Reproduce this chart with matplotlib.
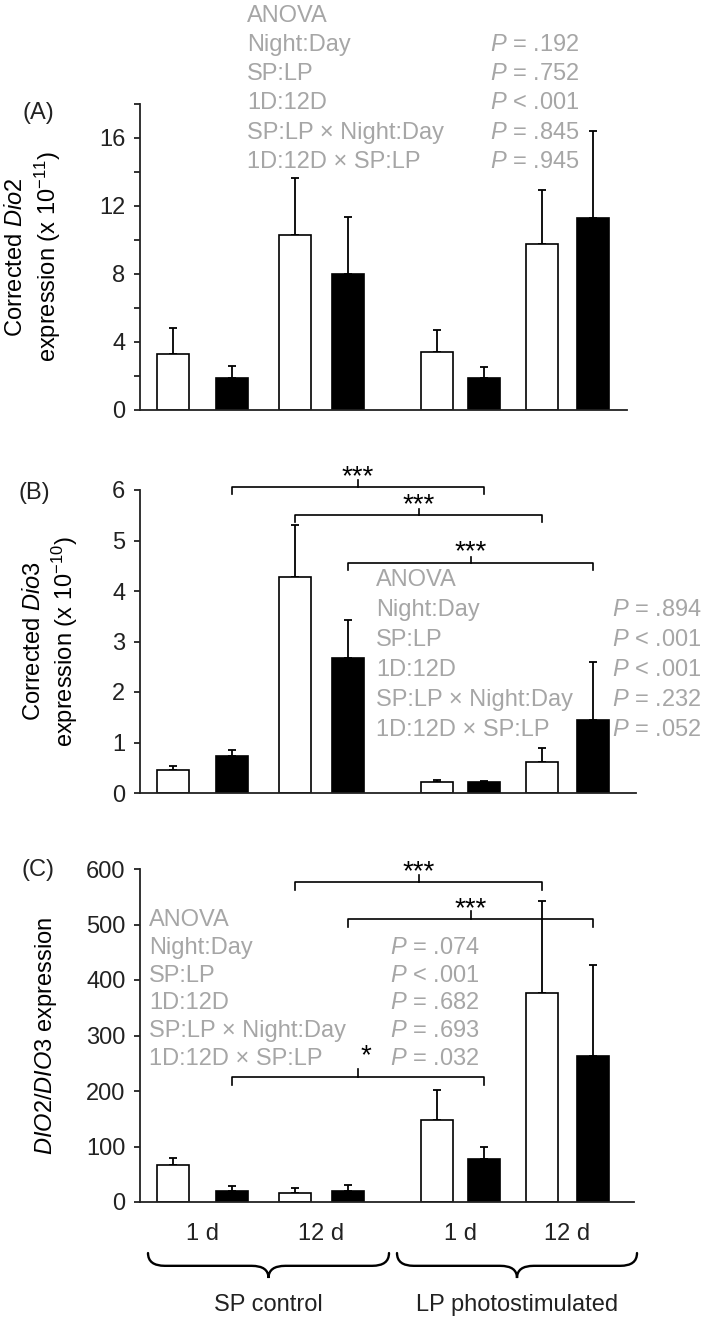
import numpy as np
import matplotlib
matplotlib.use('Agg')
import matplotlib.pyplot as plt
from matplotlib.path import Path
from matplotlib.patches import PathPatch

plt.rcParams['font.family'] = ['Liberation Sans', 'DejaVu Sans']
plt.rcParams['mathtext.fontset'] = 'custom'
plt.rcParams['mathtext.rm'] = 'Liberation Sans'
plt.rcParams['mathtext.it'] = 'Liberation Sans:italic'

# данные: 8 столбиков (SP 1d ночь/день, SP 12d ночь/день, LP 1d ночь/день, LP 12d ночь/день)
bar_fill = ['white', 'black'] * 4
dio2_mean = [3.29, 1.90, 10.27, 7.98, 3.43, 1.86, 9.75, 11.31]
dio2_se = [1.53, 0.69, 3.38, 3.39, 1.30, 0.69, 3.19, 5.12]
dio3_mean = [0.45, 0.73, 4.27, 2.67, 0.22, 0.21, 0.61, 1.44]
dio3_se = [0.09, 0.12, 1.04, 0.76, 0.04, 0.03, 0.28, 1.15]
ratio_mean = [67, 20, 17, 20, 147, 77, 377, 263]
ratio_se = [13, 9, 8, 11, 55, 23, 166, 164]

day_labels = ['1 d', '12 d', '1 d', '12 d']
group_labels = ['SP control', 'LP photostimulated']

anova_terms = ['Night:Day', 'SP:LP', '1D:12D', 'SP:LP × Night:Day', '1D:12D × SP:LP']
p_dio2 = ['= .192', '= .752', '< .001', '= .845', '= .945']
p_dio3 = ['= .894', '< .001', '< .001', '= .232', '= .052']
p_ratio = ['= .074', '< .001', '= .682', '= .693', '= .032']

# скобки значимости: (столбик, столбик, высота, подпись)
sig_dio3 = [(1, 5, 6.06, '***'), (2, 6, 5.50, '***'), (3, 7, 4.55, '***')]
sig_ratio = [(2, 6, 576, '***'), (3, 7, 510, '***'), (1, 5, 225, '*')]

# раскладка в пикселях (1 единица по x = 1 px)
W, H = 709, 1317
x_bar = np.array([33, 92, 155, 208, 297, 344, 402, 453])
bar_w = 32
gray = '#a6a6a6'
fs = 17

fig = plt.figure(figsize=(W / 100, H / 100), dpi=100)


def make_axes(y0, ytop, xr, ymax):
    ax = fig.add_axes([140 / W, 1 - y0 / H, xr / W, (y0 - ytop) / H])
    ax.set_xlim(0, xr)
    ax.set_ylim(0, ymax)
    for s in ['top', 'right']:
        ax.spines[s].set_visible(False)
    for s in ['left', 'bottom']:
        ax.spines[s].set_linewidth(1.3)
        ax.spines[s].set_color('#222222')
    ax.tick_params(axis='y', direction='out', length=4.5, width=1.3,
                   labelsize=fs, pad=6, colors='#222222')
    ax.tick_params(axis='x', length=0)
    ax.set_xticks([])
    return ax


def draw_bars(ax, mean, se):
    ax.bar(x_bar, mean, width=bar_w, color=bar_fill, edgecolor='black',
           linewidth=1.2, zorder=2)
    ax.errorbar(x_bar, mean, yerr=[np.zeros(len(se)), se], fmt='none',
                ecolor='black', elinewidth=1.3, capsize=3, capthick=1.3, zorder=1)


def anova_block(ax, x, xp, y1, step, pvals):
    ax.text(x, y1, 'ANOVA', color=gray, fontsize=fs, va='center', clip_on=False)
    for k, (term, p) in enumerate(zip(anova_terms, pvals)):
        y = y1 - (k + 1) * step
        ax.text(x, y, term, color=gray, fontsize=fs, va='center', clip_on=False)
        ax.text(xp, y, r'$P$ ' + p, color=gray, fontsize=fs, va='center', clip_on=False)


def brackets(ax, sigs, d, offs):
    for (i, j, h, lab), off in zip(sigs, offs):
        x0, x1 = x_bar[i], x_bar[j]
        xm = (x0 + x1) / 2
        ax.plot([x0, x0, x1, x1], [h - d, h, h, h - d], color='black', lw=1.2,
                clip_on=False, solid_joinstyle='round')
        ax.plot([xm, xm], [h, h + d], color='black', lw=1.2, clip_on=False)
        ax.annotate(lab, xy=(xm, h), xytext=off, textcoords='offset points',
                    ha='center', va='baseline', fontsize=20, annotation_clip=False)


def brace(ax, x0, x1, yt, ym, yb):
    xm = (x0 + x1) / 2
    r = 0.07 * (x1 - x0)
    verts = [(x0, yt), (x0, ym), (x0 + r, ym), (xm - r, ym), (xm, ym), (xm, yb),
             (xm, ym), (xm + r, ym), (x1 - r, ym), (x1, ym), (x1, yt)]
    codes = [Path.MOVETO, Path.CURVE3, Path.CURVE3, Path.LINETO, Path.CURVE3, Path.CURVE3,
             Path.CURVE3, Path.CURVE3, Path.LINETO, Path.CURVE3, Path.CURVE3]
    ax.add_patch(PathPatch(Path(verts, codes), fill=False, lw=1.7, color='black',
                           clip_on=False, capstyle='round'))


# (A) Dio2
axA = make_axes(410, 104, 487, 18)
draw_bars(axA, dio2_mean, dio2_se)
axA.set_yticks(range(0, 19, 2))
axA.set_yticklabels([str(v) if v % 4 == 0 and v < 18 else '' for v in range(0, 19, 2)])
axA.set_ylabel('Corrected $\\mathit{Dio2}$\nexpression (x 10$^{-11}$)', fontsize=fs,
               linespacing=1.25)
axA.yaxis.set_label_coords(-0.158, 0.5)
anova_block(axA, 107, 350, 23.2, 1.72, p_dio2)

# (B) Dio3
axB = make_axes(793, 490, 496, 6)
draw_bars(axB, dio3_mean, dio3_se)
axB.set_yticks(range(0, 7))
axB.set_ylabel('Corrected $\\mathit{Dio3}$\nexpression (x 10$^{-10}$)', fontsize=fs,
               linespacing=1.25)
axB.yaxis.set_label_coords(-0.12, 0.5)
brackets(axB, sig_dio3, 0.13, [(0, 2), (0, 2), (0, 3)])
anova_block(axB, 236, 472, 4.22, 0.594, p_dio3)

# (C) DIO2/DIO3
axC = make_axes(1202, 869, 494, 600)
draw_bars(axC, ratio_mean, ratio_se)
axC.set_yticks(range(0, 601, 100))
axC.set_ylabel('$\\mathit{DIO2/DIO3}$ expression', fontsize=fs)
axC.yaxis.set_label_coords(-0.164, 0.5)
brackets(axC, sig_ratio, 14, [(0, 2), (0, 2), (6, 10)])
anova_block(axC, 9, 250, 508, 50, p_ratio)

pair_x = (x_bar[0::2] + x_bar[1::2]) / 2
axC.set_xticks(pair_x)
axC.set_xticklabels(day_labels, fontsize=fs, color='#222222')
axC.tick_params(axis='x', pad=15)

spans = [(8, 249), (257, 497)]
for (b0, b1), lab in zip(spans, group_labels):
    brace(axC, b0, b1, -92, -115, -137)
    axC.text((b0 + b1) / 2, -185, lab, ha='center', va='center', fontsize=fs,
             color='#222222', clip_on=False)

for lab, (px, py) in zip(['(A)', '(B)', '(C)'], [(38, 113), (34, 493), (38, 870)]):
    fig.text(px / W, 1 - py / H, lab, ha='center', va='center', fontsize=fs,
             color='#222222')

fig.savefig('out.png', dpi=100)
